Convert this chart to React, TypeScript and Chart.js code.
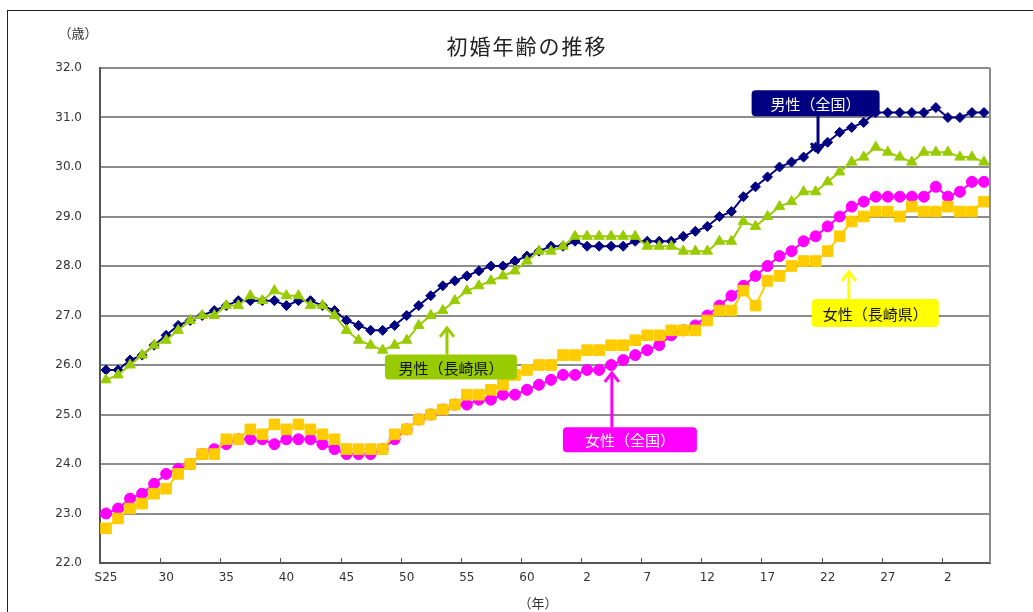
import React, { useEffect, useRef } from 'react';
import { Chart, registerables } from 'chart.js';

Chart.register(...registerables);

// Categories: S25 (1950) .. R5 (2023)
const categories = [
  'S25', 'S26', 'S27', 'S28', 'S29', 'S30', 'S31', 'S32', 'S33', 'S34',
  'S35', 'S36', 'S37', 'S38', 'S39', 'S40', 'S41', 'S42', 'S43', 'S44',
  'S45', 'S46', 'S47', 'S48', 'S49', 'S50', 'S51', 'S52', 'S53', 'S54',
  'S55', 'S56', 'S57', 'S58', 'S59', 'S60', 'S61', 'S62', 'S63', 'H1',
  'H2', 'H3', 'H4', 'H5', 'H6', 'H7', 'H8', 'H9', 'H10', 'H11',
  'H12', 'H13', 'H14', 'H15', 'H16', 'H17', 'H18', 'H19', 'H20', 'H21',
  'H22', 'H23', 'H24', 'H25', 'H26', 'H27', 'H28', 'H29', 'H30', 'R1',
  'R2', 'R3', 'R4', 'R5',
];

// Tick labels shown every 5 categories
const tickLabels = ['S25', '30', '35', '40', '45', '50', '55', '60', '2', '7', '12', '17', '22', '27', '2'];

const yTicks = [22, 23, 24, 25, 26, 27, 28, 29, 30, 31, 32];

// 男性（全国）
const maleNational = [
  25.9, 25.9, 26.1, 26.2, 26.4, 26.6, 26.8, 26.9, 27.0, 27.1,
  27.2, 27.3, 27.3, 27.3, 27.3, 27.2, 27.3, 27.3, 27.2, 27.1,
  26.9, 26.8, 26.7, 26.7, 26.8, 27.0, 27.2, 27.4, 27.6, 27.7,
  27.8, 27.9, 28.0, 28.0, 28.1, 28.2, 28.3, 28.4, 28.4, 28.5,
  28.4, 28.4, 28.4, 28.4, 28.5, 28.5, 28.5, 28.5, 28.6, 28.7,
  28.8, 29.0, 29.1, 29.4, 29.6, 29.8, 30.0, 30.1, 30.2, 30.4,
  30.5, 30.7, 30.8, 30.9, 31.1, 31.1, 31.1, 31.1, 31.1, 31.2,
  31.0, 31.0, 31.1, 31.1,
];

// 男性（長崎県）
const maleNagasaki = [
  25.7, 25.8, 26.0, 26.2, 26.4, 26.5, 26.7, 26.9, 27.0, 27.0,
  27.2, 27.2, 27.4, 27.3, 27.5, 27.4, 27.4, 27.2, 27.2, 27.0,
  26.7, 26.5, 26.4, 26.3, 26.4, 26.5, 26.8, 27.0, 27.1, 27.3,
  27.5, 27.6, 27.7, 27.8, 27.9, 28.1, 28.3, 28.3, 28.4, 28.6,
  28.6, 28.6, 28.6, 28.6, 28.6, 28.4, 28.4, 28.4, 28.3, 28.3,
  28.3, 28.5, 28.5, 28.9, 28.8, 29.0, 29.2, 29.3, 29.5, 29.5,
  29.7, 29.9, 30.1, 30.2, 30.4, 30.3, 30.2, 30.1, 30.3, 30.3,
  30.3, 30.2, 30.2, 30.1,
];

// 女性（全国）
const femaleNational = [
  23.0, 23.1, 23.3, 23.4, 23.6, 23.8, 23.9, 24.0, 24.2, 24.3,
  24.4, 24.5, 24.5, 24.5, 24.4, 24.5, 24.5, 24.5, 24.4, 24.3,
  24.2, 24.2, 24.2, 24.3, 24.5, 24.7, 24.9, 25.0, 25.1, 25.2,
  25.2, 25.3, 25.3, 25.4, 25.4, 25.5, 25.6, 25.7, 25.8, 25.8,
  25.9, 25.9, 26.0, 26.1, 26.2, 26.3, 26.4, 26.6, 26.7, 26.8,
  27.0, 27.2, 27.4, 27.6, 27.8, 28.0, 28.2, 28.3, 28.5, 28.6,
  28.8, 29.0, 29.2, 29.3, 29.4, 29.4, 29.4, 29.4, 29.4, 29.6,
  29.4, 29.5, 29.7, 29.7,
];

// 女性（長崎県）
const femaleNagasaki = [
  22.7, 22.9, 23.1, 23.2, 23.4, 23.5, 23.8, 24.0, 24.2, 24.2,
  24.5, 24.5, 24.7, 24.6, 24.8, 24.7, 24.8, 24.7, 24.6, 24.5,
  24.3, 24.3, 24.3, 24.3, 24.6, 24.7, 24.9, 25.0, 25.1, 25.2,
  25.4, 25.4, 25.5, 25.6, 25.8, 25.9, 26.0, 26.0, 26.2, 26.2,
  26.3, 26.3, 26.4, 26.4, 26.5, 26.6, 26.6, 26.7, 26.7, 26.7,
  26.9, 27.1, 27.1, 27.5, 27.2, 27.7, 27.8, 28.0, 28.1, 28.1,
  28.3, 28.6, 28.9, 29.0, 29.1, 29.1, 29.0, 29.2, 29.1, 29.1,
  29.2, 29.1, 29.1, 29.3,
];

const seriesNames = ['男性（全国）', '男性（長崎県）', '女性（全国）', '女性（長崎県）'];

// Callout boxes anchored in data coordinates (category index, value)
const callouts = [
  { text: '男性（全国）', bg: '#000080', fg: '#ffffff', cx: 59.0, cy: 31.29, w: 128, h: 26, ax: 59.2, tip: 30.3 },
  { text: '男性（長崎県）', bg: '#99CC00', fg: '#111111', cx: 28.68, cy: 25.96, w: 132, h: 25, ax: 28.35, tip: 26.75 },
  { text: '女性（全国）', bg: '#FF00FF', fg: '#ffffff', cx: 43.56, cy: 24.49, w: 134, h: 25, ax: 42.06, tip: 25.84 },
  { text: '女性（長崎県）', bg: '#FFFF00', fg: '#111111', cx: 63.96, cy: 27.05, w: 127, h: 28, ax: 61.76, tip: 27.88 },
];

const CJK = '"Noto Sans CJK JP", "Noto Sans", sans-serif';

function roundRect(ctx: CanvasRenderingContext2D, x: number, y: number, w: number, h: number, r: number) {
  ctx.beginPath();
  ctx.moveTo(x + r, y);
  ctx.lineTo(x + w - r, y);
  ctx.quadraticCurveTo(x + w, y, x + w, y + r);
  ctx.lineTo(x + w, y + h - r);
  ctx.quadraticCurveTo(x + w, y + h, x + w - r, y + h);
  ctx.lineTo(x + r, y + h);
  ctx.quadraticCurveTo(x, y + h, x, y + h - r);
  ctx.lineTo(x, y + r);
  ctx.quadraticCurveTo(x, y, x + r, y);
  ctx.closePath();
}

const decorPlugin = {
  id: 'decor',
  afterDraw(chart: any) {
    const ctx: CanvasRenderingContext2D = chart.ctx;
    const area = chart.chartArea;
    const xs = chart.scales.x;
    const ys = chart.scales.y;
    ctx.save();

    // outer frame
    ctx.strokeStyle = '#222';
    ctx.lineWidth = 1;
    ctx.strokeRect(7.5, 10.5, 1200, 800);

    // right border of plot area
    ctx.strokeStyle = '#8c8c8c';
    ctx.lineWidth = 2;
    ctx.beginPath();
    ctx.moveTo(area.right, area.top);
    ctx.lineTo(area.right, area.bottom);
    ctx.stroke();

    // inside tick marks on category axis
    ctx.strokeStyle = '#555';
    ctx.lineWidth = 1;
    for (let k = 1; k < tickLabels.length; k++) {
      const x = Math.round(xs.getPixelForValue(5 * k - 0.5)) + 0.5;
      ctx.beginPath();
      ctx.moveTo(x, area.bottom);
      ctx.lineTo(x, area.bottom - 5);
      ctx.stroke();
    }

    // title
    ctx.fillStyle = '#222';
    ctx.font = `21px ${CJK}`;
    ctx.textAlign = 'center';
    ctx.textBaseline = 'middle';
    (ctx as any).letterSpacing = '2px';
    ctx.fillText('初婚年齢の推移', 527, 46);
    (ctx as any).letterSpacing = '0px';

    // units
    ctx.font = `13px ${CJK}`;
    ctx.fillStyle = '#333';
    ctx.fillText('（歳）', 78, 33);
    ctx.fillText('（年）', 538, 603);

    // callouts
    for (const c of callouts) {
      const bx = xs.getPixelForValue(c.cx);
      const by = ys.getPixelForValue(c.cy);
      const left = bx - c.w / 2;
      const top = by - c.h / 2;
      const ax = xs.getPixelForValue(c.ax);
      const tipY = ys.getPixelForValue(c.tip);
      const down = tipY > by;
      const startY = down ? top + c.h : top;

      // arrow stem
      ctx.strokeStyle = c.bg;
      ctx.lineWidth = 3;
      ctx.lineCap = 'butt';
      ctx.lineJoin = 'miter';
      ctx.beginPath();
      ctx.moveTo(ax, startY);
      ctx.lineTo(ax, tipY);
      ctx.stroke();
      // arrow head (open V)
      const d = down ? -1 : 1;
      ctx.beginPath();
      ctx.moveTo(ax - 7, tipY + d * 9);
      ctx.lineTo(ax, tipY);
      ctx.lineTo(ax + 7, tipY + d * 9);
      ctx.stroke();

      // box
      ctx.fillStyle = c.bg;
      roundRect(ctx, left, top, c.w, c.h, 4);
      ctx.fill();

      // text
      ctx.fillStyle = c.fg;
      ctx.font = `15px ${CJK}`;
      ctx.textAlign = 'center';
      ctx.textBaseline = 'middle';
      ctx.fillText(c.text, bx, by + 1);
    }
    ctx.restore();
  },
};

export default function App() {
  const ref = useRef<HTMLCanvasElement | null>(null);

  useEffect(() => {
    document.body.style.margin = '0';
    const canvas = ref.current;
    if (!canvas) return;
    Chart.defaults.font.family = '"DejaVu Sans", "Liberation Sans", sans-serif';

    const chart = new Chart(canvas, {
      type: 'line',
      data: {
        labels: categories,
        datasets: [
          {
            label: seriesNames[0],
            data: maleNational,
            borderColor: '#000080',
            backgroundColor: '#000080',
            borderWidth: 2,
            pointStyle: 'rectRot',
            pointRadius: 5,
            pointBorderWidth: 1,
            pointBorderColor: '#000080',
            pointBackgroundColor: '#000080',
            order: 4,
          },
          {
            label: seriesNames[1],
            data: maleNagasaki,
            borderColor: '#99CC00',
            backgroundColor: '#99CC00',
            borderWidth: 2,
            pointStyle: 'triangle',
            pointRadius: 6,
            pointBorderWidth: 1,
            pointBorderColor: '#99CC00',
            pointBackgroundColor: '#99CC00',
            order: 3,
          },
          {
            label: seriesNames[2],
            data: femaleNational,
            borderColor: '#FF00FF',
            backgroundColor: '#FF00FF',
            borderWidth: 2,
            pointStyle: 'circle',
            pointRadius: 5.5,
            pointBorderWidth: 1,
            pointBorderColor: '#FF00FF',
            pointBackgroundColor: '#FF00FF',
            order: 2,
          },
          {
            label: seriesNames[3],
            data: femaleNagasaki,
            borderColor: '#FFCC00',
            backgroundColor: '#FFCC00',
            borderWidth: 2,
            pointStyle: 'rect',
            pointRadius: 7.5,
            pointBorderWidth: 1,
            pointBorderColor: '#FFCC00',
            pointBackgroundColor: '#FFCC00',
            order: 1,
          },
        ],
      },
      options: {
        responsive: false,
        animation: false,
        events: [],
        layout: { padding: { top: 68, right: 43, left: 0, bottom: 0 } },
        plugins: {
          legend: { display: false },
          title: { display: false },
          tooltip: { enabled: false },
        },
        scales: {
          x: {
            type: 'category',
            offset: true,
            grid: { display: false, drawTicks: false },
            border: { display: true, color: '#555', width: 2 },
            ticks: {
              autoSkip: false,
              maxRotation: 0,
              minRotation: 0,
              padding: 8,
              color: '#333',
              font: { size: 12 },
              callback: (_v: any, idx: number) => (idx % 5 === 0 ? tickLabels[idx / 5] : ''),
            },
            afterFit: (s: any) => {
              s.height = 49;
            },
          },
          y: {
            min: yTicks[0],
            max: yTicks[yTicks.length - 1],
            afterBuildTicks: (s: any) => {
              s.ticks = yTicks.map((v) => ({ value: v }));
            },
            grid: { color: '#8c8c8c', lineWidth: 2, drawTicks: false },
            border: { display: true, color: '#555', width: 2 },
            ticks: {
              padding: 18,
              color: '#333',
              font: { size: 12 },
              callback: (v: any) => Number(v).toFixed(1),
            },
            afterFit: (s: any) => {
              s.width = 100;
            },
          },
        },
      },
      plugins: [decorPlugin],
    });

    return () => chart.destroy();
  }, []);

  return (
    <div style={{ position: 'absolute', left: 0, top: 0, width: 1033, height: 612, background: '#fff' }}>
      <canvas ref={ref} width={1033} height={612} style={{ display: 'block' }} />
    </div>
  );
}
